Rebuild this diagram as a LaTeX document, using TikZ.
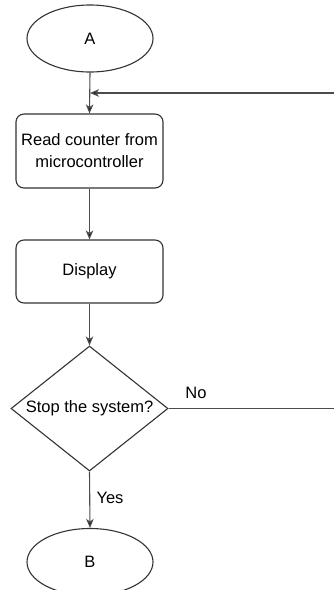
\documentclass[tikz,border=0pt]{standalone}
\usepackage{fontspec}
\setmainfont{Liberation Sans}
\usetikzlibrary{shapes.geometric,arrows.meta}
\begin{document}
\begin{tikzpicture}[x=1pt,y=-1pt,
  every node/.style={font=\fontsize{16.5}{22}\selectfont, text=black},
  shapeline/.style={draw=black!80, line width=1.1pt},
  terminal/.style={shapeline, ellipse, minimum width=126pt, minimum height=67pt, inner sep=0pt},
  process/.style={shapeline, rectangle, rounded corners=8pt, minimum width=147pt, inner sep=0pt, align=center},
  decision/.style={shapeline, diamond, aspect=1.256, minimum width=157pt, minimum height=125pt, inner sep=0pt},
  conn/.style={draw=black!70, line width=1.1pt, -{Stealth[length=9pt,width=7.5pt,inset=2.5pt,fill=black!90]}},
  lbl/.style={inner sep=0pt}
]
\useasboundingbox (0,0) rectangle (334,590);
\node[terminal] (A) at (90,38.5) {A};
\node[process, minimum height=74pt] (read) at (89.5,151) {Read counter from\\microcontroller};
\node[process, minimum height=63pt] (disp) at (89.5,271.5) {Display};
\node[decision] (stop) at (89.5,408.5) {Stop the system?};
\node[terminal] (B) at (90,562) {B};
\coordinate (merge) at (90,93);
\coordinate (r1) at (345,408.5);
\coordinate (r2) at (345,93);
\node[lbl] (no) at (196,393) {No};
\node[lbl] (yes) at (110,498) {Yes};
\draw[conn] (A.south) -- (read.north);
\draw[conn] (stop.east) -- (r1) -- (r2) -- (merge);
\draw[conn] (read.south) -- (disp.north);
\draw[conn] (disp.south) -- (stop.north);
\draw[conn] (stop.south) -- (B.north);
\end{tikzpicture}
\end{document}
